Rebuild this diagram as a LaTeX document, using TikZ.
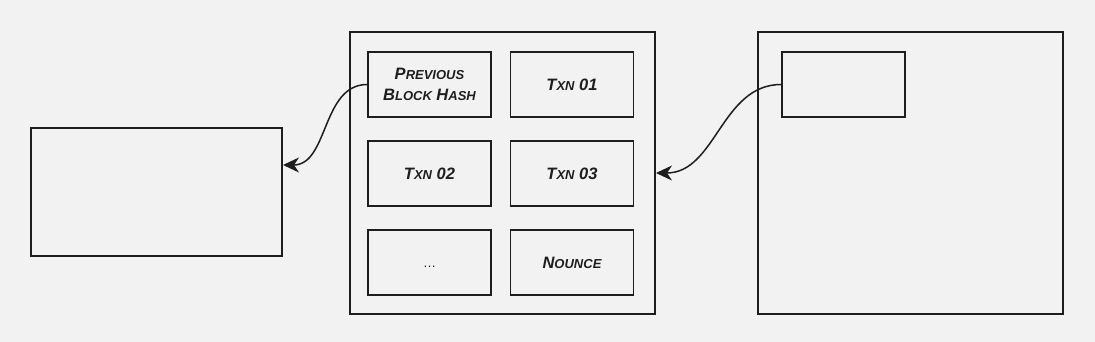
\documentclass[tikz,border=0pt]{standalone}
\usepackage{fontspec}
\setmainfont{Liberation Sans}
\usetikzlibrary{arrows.meta}
\definecolor{bg}{HTML}{F2F2F2}
\definecolor{ink}{HTML}{1E1E1E}
\newcommand{\capB}[1]{{\fontsize{16.5}{16.5}\selectfont #1}}
\newcommand{\capS}[1]{{\fontsize{13}{13}\selectfont #1}}
\begin{document}
\begin{tikzpicture}[x=1pt,y=-1pt,
  frame/.style={draw=ink,line width=2pt},
  cell/.style={draw=ink,line width=1.6pt,minimum width=123pt,minimum height=65pt,inner sep=0pt,font=\fontsize{16.5}{21}\selectfont\bfseries\itshape,align=center,text=ink},
  link/.style={draw=ink,line width=1.5pt,-{Stealth[length=16pt,width=15pt,inset=5pt]}}
]
\fill[bg] (0,0) rectangle (1095,342);
\useasboundingbox (0,0) rectangle (1095,342);
% left block
\node[frame,minimum width=251pt,minimum height=128pt,inner sep=0pt] (left) at (156.5,192) {};
% middle block
\node[frame,minimum width=305pt,minimum height=282pt,inner sep=0pt] (mid) at (502.5,173) {};
\node[cell] (prev) at (429.5,84.5) {\capB{P}\capS{REVIOUS}\\\capB{B}\capS{LOCK} \capB{H}\capS{ASH}};
\node[cell] (t1) at (572,84.5) {\capB{T}\capS{XN} \capB{01}};
\node[cell] (t2) at (429.5,173.5) {\capB{T}\capS{XN} \capB{02}};
\node[cell] (t3) at (572,173.5) {\capB{T}\capS{XN} \capB{03}};
\node[cell,font=\normalfont] (dots) at (429.5,262.5) {\rule{0pt}{9pt}\capS{\dots}};
\node[cell] (nonce) at (572,262.5) {\capB{N}\capS{OUNCE}};
% right block
\node[frame,minimum width=305pt,minimum height=282pt,inner sep=0pt] (right) at (910.5,173) {};
\node[cell] (rsmall) at (843.5,84.5) {};
% connectors
\draw[link] (prev.west) to[out=180,in=0] ([yshift=-38pt]left.north east);
\draw[link] (rsmall.west) to[out=180,in=0] (mid.east);
\end{tikzpicture}
\end{document}
